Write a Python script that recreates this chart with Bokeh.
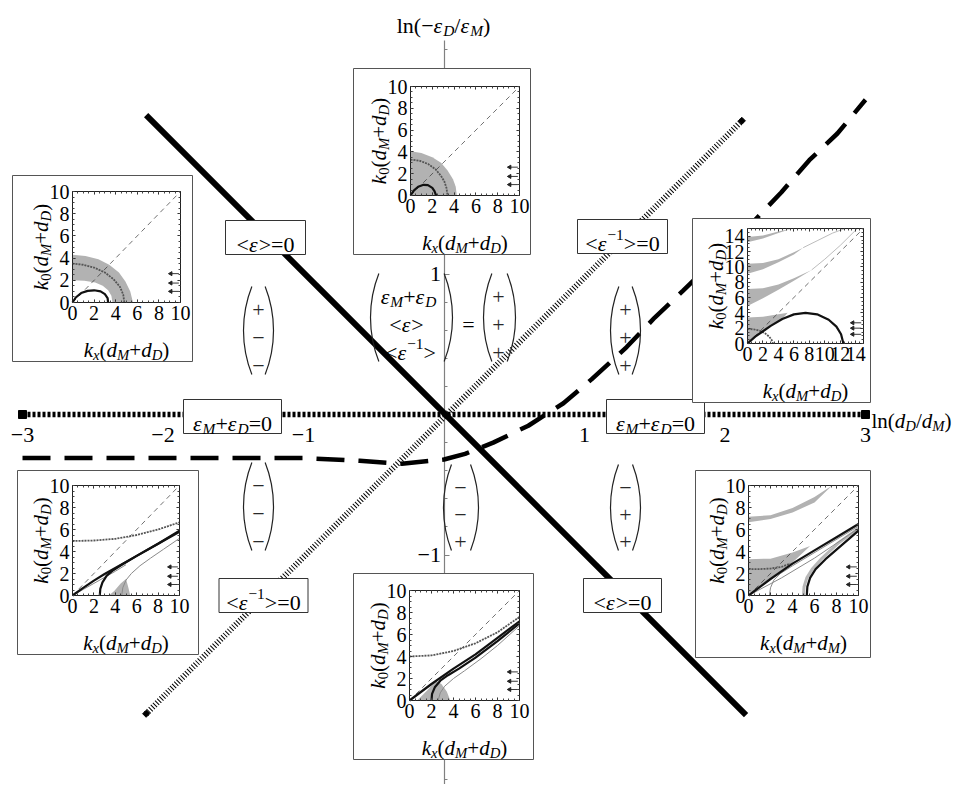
import math
from bokeh.plotting import figure
from bokeh.models import Range1d, LinearAxis, SingleIntervalTicker, FixedTicker
from bokeh.core.properties import value
from bokeh.embed import file_html
from bokeh.resources import INLINE

FONT = "Liberation Serif"

# ---------------- data: main diagram ----------------
x_ticks = [-3, -2, -1, 1, 2, 3]
x_tick_text = ["−3", "−2", "−1", "1", "2", "3"]
y_ticks = [-2, -1, 0, 1, 2]
y_tick_text = ["−2", "−1", "", "1", "2"]

mean_eps_x = [-2.12, 2.15]      # <eps> = 0
mean_eps_y = [2.13, -2.14]
mean_inv_x = [-2.12, 2.12]      # <eps^-1> = 0
mean_inv_y = [-2.13, 2.09]
sum_x = [-3.0, 3.0]             # eps_M + eps_D = 0
sum_y = [0.0, 0.0]
cut_x = [-3.0, -2.5, -2.0, -1.5, -1.0, -0.6, -0.3, 0.0, 0.15, 0.35, 0.6, 0.85,
         1.05, 1.3, 1.5, 1.7, 2.0, 2.2, 2.4, 2.6, 2.8, 3.0]
cut_y = [-0.31, -0.31, -0.31, -0.31, -0.31, -0.33, -0.35, -0.32, -0.28, -0.2, -0.08, 0.08,
         0.25, 0.48, 0.69, 0.88, 1.17, 1.37, 1.58, 1.81, 2.0, 2.24]

signs_ul = ["+", "−", "−"]
signs_c = ["+", "+", "+"]
signs_ur = ["+", "+", "+"]
signs_ll = ["−", "−", "−"]
signs_lc = ["−", "−", "+"]
signs_lr = ["−", "+", "+"]

# ---------------- data: insets (kx, k0 in units of 1/(dM+dD)) ----------------
T_gray_kx = [0, 0, 1.0, 2.0, 2.8, 3.4, 3.9, 4.15, 4.25]
T_gray_k0 = [0, 4.05, 3.9, 3.5, 3.0, 2.3, 1.5, 0.8, 0]
T_arc_kx = [0, 0.8, 1.6, 2.3, 2.8, 3.1, 3.3, 3.4]
T_arc_k0 = [3.3, 3.2, 2.9, 2.4, 1.8, 1.3, 0.7, 0]
T_mode_kx = [0, 0.3, 0.7, 1.2, 1.6, 2.0, 2.2, 2.35]
T_mode_k0 = [0, 0.45, 0.8, 0.98, 0.95, 0.7, 0.4, 0]

L_gray_kx = [0, 1.2, 2.4, 3.4, 4.3, 4.9, 5.35, 5.6, 3.7, 3.6, 3.3, 2.8, 2.1, 1.1, 0]
L_gray_k0 = [4.3, 4.2, 3.9, 3.4, 2.7, 1.9, 1.0, 0, 0, 0.6, 1.1, 1.5, 1.8, 1.95, 2.0]
L_arc_kx = [0, 1.0, 2.0, 3.0, 3.8, 4.4, 4.7, 4.8]
L_arc_k0 = [3.5, 3.4, 3.15, 2.7, 2.1, 1.4, 0.7, 0]
L_mode_kx = [0, 0.3, 0.8, 1.4, 2.0, 2.6, 3.0, 3.25, 3.3]
L_mode_k0 = [0, 0.45, 0.85, 1.05, 1.1, 1.0, 0.75, 0.4, 0]

R_b1_kx = [0, 0, 2, 4, 5.2, 4.5, 3, 2, 1]
R_b1_k0 = [0, 3.4, 3.5, 3.8, 4.0, 3.2, 2.3, 1.6, 0.9]
R_b2_kx = [0, 2, 4, 6, 8.3, 6, 4, 2, 0]
R_b2_k0 = [7.1, 7.2, 7.7, 8.5, 9.6, 8.2, 7.0, 5.9, 4.9]
R_b2t_kx = [8.3, 10, 12, 14.2]
R_b2t_k0 = [9.6, 11.0, 12.8, 15]
R_b3_kx = [0, 2, 4, 6, 7.2, 6, 4, 2, 0]
R_b3_k0 = [10.4, 10.5, 11.0, 11.9, 12.5, 11.6, 10.6, 9.7, 9.1]
R_b3t_kx = [7.2, 9, 11, 12.6]
R_b3t_k0 = [12.5, 13.4, 14.4, 15]
R_b4_kx = [0, 2, 4, 5.8, 4, 2, 0]
R_b4_k0 = [13.9, 14.1, 14.6, 15.0, 14.4, 13.7, 13.2]
R_mode_kx = [0, 1, 2, 3, 4.5, 6, 7.5, 9, 10.5, 11.5, 12.1, 12.4]
R_mode_k0 = [0, 0.9, 1.6, 2.3, 3.2, 3.8, 4.0, 3.8, 3.1, 2.2, 1.2, 0]
R_arc_kx = [0, 0.8, 1.6, 2.3, 2.8, 3.1, 3.3]
R_arc_k0 = [1.9, 1.85, 1.65, 1.3, 0.9, 0.5, 0]

BL_fill_kx = [3.4, 5.4, 5.2, 5.0, 4.5, 3.9]
BL_fill_k0 = [0, 0, 0.8, 1.5, 1.1, 0.4]
BL_hyp_kx = [0, 2, 4, 6, 8, 10]
BL_hyp_k0 = [4.95, 5.0, 5.15, 5.5, 6.0, 6.65]
BL_m1_kx = [0, 1, 2, 3, 4, 5, 6, 8, 10]
BL_m1_k0 = [0, 0.7, 1.35, 1.95, 2.5, 3.05, 3.6, 4.7, 5.9]
BL_m1b_kx = [0, 1, 2, 3, 4, 5]
BL_m1b_k0 = [0, 0.55, 1.1, 1.65, 2.2, 2.8]
BL_m2_kx = [2.55, 2.6, 2.8, 3.2, 3.8, 4.6, 6, 8, 10]
BL_m2_k0 = [0, 0.6, 1.2, 1.8, 2.3, 2.8, 3.6, 4.7, 5.8]
BL_m3_kx = [4.6, 4.7, 5.0, 5.5, 6.3, 7.3, 8.5, 10]
BL_m3_k0 = [0, 0.7, 1.4, 2.0, 2.7, 3.4, 4.2, 5.2]

BC_fill_kx = [0.7, 3.7, 3.4, 2.9, 2.4, 1.6]
BC_fill_k0 = [0, 0, 0.8, 1.5, 1.8, 0.9]
BC_hyp_kx = [0, 2, 4, 6, 8, 10]
BC_hyp_k0 = [4.0, 4.1, 4.5, 5.2, 6.2, 7.6]
BC_m1_kx = [0, 2, 4, 6, 8, 10]
BC_m1_k0 = [0, 1.5, 2.9, 4.2, 5.7, 7.2]
BC_m2_kx = [2.0, 2.05, 2.3, 2.8, 3.5, 4.5, 6, 8, 10]
BC_m2_k0 = [0, 0.6, 1.2, 1.8, 2.3, 2.9, 3.9, 5.4, 7.0]
BC_m3_kx = [2.6, 2.8, 3.2, 4, 5, 6.5, 8, 10]
BC_m3_k0 = [0, 0.7, 1.3, 2.0, 2.7, 3.8, 5.0, 6.8]

BR_top_kx = [0, 2, 4, 6, 7.6, 6, 4, 2, 0]
BR_top_k0 = [7.15, 7.3, 7.95, 8.95, 10, 8.45, 7.55, 6.95, 6.65]
BR_low_kx = [0, 0, 2, 4, 5.6, 4, 2, 0.6]
BR_low_k0 = [0.2, 3.3, 3.35, 3.9, 4.5, 3.0, 1.6, 0.5]
BR_hyp_kx = [0, 1, 2, 3, 3.8]
BR_hyp_k0 = [2.4, 2.4, 2.45, 2.6, 2.9]
BR_m1_kx = [0, 2, 4, 6, 8, 10]
BR_m1_k0 = [0, 1.5, 2.9, 4.1, 5.3, 6.5]
BR_m1b_kx = [0, 3, 6, 10]
BR_m1b_k0 = [0, 1.6, 3.4, 6.1]
BR_m2_kx = [1.9, 2.0, 2.3, 2.9, 4, 5.5, 7.5, 10]
BR_m2_k0 = [0, 0.7, 1.4, 2.0, 2.7, 3.6, 4.8, 6.3]
BR_m3_kx = [5.3, 5.35, 5.6, 6.1, 7, 8.5, 10]
BR_m3_k0 = [0, 0.8, 1.6, 2.4, 3.3, 4.6, 5.9]
BR_m3g_kx = [5.0, 5.05, 5.3, 5.8, 6.7, 8.2, 10]
BR_m3g_k0 = [0, 0.8, 1.6, 2.4, 3.4, 4.8, 6.1]

arrow_k0_10 = [2.6, 1.75, 1.0]
arrow_kx_10 = [9.85, 9.1]
arrow_k0_15 = [2.7, 2.0, 1.2]
arrow_kx_15 = [14.7, 13.6]

# ---------------- layout (page pixels) ----------------
W, H = 953, 784
PX0, PY0 = 0, 0
OX, OY, S = 443.5, 414.0, 140.5


def mx(px):
    return (px - OX) / S


def my(py):
    return (OY - py) / S


p = figure(width=W, height=H, x_range=Range1d(mx(PX0), mx(PX0 + W)),
           y_range=Range1d(my(PY0 + H), my(PY0)), output_backend="svg",
           toolbar_location=None, min_border=0, x_axis_type=None, y_axis_type=None,
           title=None, outline_line_color=None, background_fill_color="white",
           border_fill_color="white")

# ---------------- rich text helper ----------------
ROMAN = {"(": .333, ")": .333, "+": .564, "=": .564, "<": .564, ">": .564, "−": .564,
         "/": .278, "l": .278, "n": .5}
ITAL = {"k": .444, "x": .444, "d": .5, "M": .833, "D": .722, "ε": .44}


def rich(pieces, cx, cy, size, ppx, ppy, xr=None, yr=None, angle=0.0, align="center",
         level="glyph", color="black"):
    def adv(t, k):
        tbl = ITAL if k in ("i", "s") else ROMAN
        f = 0.7 if k in ("s", "sr", "p") else 1.0
        return sum(tbl.get(c, 0.5) for c in t) * size * f
    total = sum(adv(t, k) for t, k in pieces)
    d = -total / 2 if align == "center" else 0.0
    ca, sa = math.cos(angle), math.sin(angle)
    groups = {}
    for t, k in pieces:
        if k in ("s", "sr"):
            dy = 0.33 * size + 0.2 * size
        elif k == "p":
            dy = 0.33 * size - 0.4 * size
        else:
            dy = 0.33 * size
        ox = d * ca + dy * sa
        oy = -d * sa + dy * ca
        fs = size * 0.7 if k in ("s", "sr", "p") else size
        style = "italic" if k in ("i", "s") else "normal"
        g = groups.setdefault((round(fs, 1), style), ([], [], []))
        g[0].append(cx + ox / ppx)
        g[1].append(cy - oy / ppy)
        g[2].append(t)
        d += adv(t, k)
    for (fs, style), (xs, ys, ts) in groups.items():
        kw = {}
        if xr is not None:
            kw = dict(x_range_name=xr, y_range_name=yr)
        p.text(x=xs, y=ys, text=ts, angle=angle, text_font=value(FONT),
               text_font_size=f"{fs}px", text_font_style=style, text_align="left",
               text_baseline="alphabetic", text_color=color, level=level, **kw)


EPS_MEAN = [("<", "r"), ("ε", "i"), (">", "r")]
EPS_INV = [("<", "r"), ("ε", "i"), ("−1", "p"), (">", "r")]
EPS_SUM = [("ε", "i"), ("M", "s"), ("+", "r"), ("ε", "i"), ("D", "s")]
KX_DD = [("k", "i"), ("x", "s"), ("(", "r"), ("d", "i"), ("M", "s"), ("+", "r"), ("d", "i"), ("D", "s"), (")", "r")]
KX_DM = [("k", "i"), ("x", "s"), ("(", "r"), ("d", "i"), ("M", "s"), ("+", "r"), ("d", "i"), ("M", "s"), (")", "r")]
K0_DD = [("k", "i"), ("0", "sr"), ("(", "r"), ("d", "i"), ("M", "s"), ("+", "r"), ("d", "i"), ("D", "s"), (")", "r")]

MAIN = 22

# ---------------- main axes ----------------
yax = LinearAxis(fixed_location=0, bounds=(my(790), my(40)),
                 ticker=SingleIntervalTicker(interval=1, num_minor_ticks=5),
                 major_label_overrides=dict(zip(y_ticks, y_tick_text)),
                 axis_line_color="#808080", axis_line_width=1.2,
                 major_tick_line_color="#808080", minor_tick_line_color="#808080",
                 major_tick_in=5, major_tick_out=0, minor_tick_in=3, minor_tick_out=0,
                 major_label_text_font=FONT, major_label_text_font_size=f"{MAIN}px",
                 major_label_text_color="black",
                 major_label_standoff=3, level="underlay")
p.add_layout(yax, "left")
xax = LinearAxis(fixed_location=0, bounds=(-3, 3), ticker=FixedTicker(ticks=x_ticks),
                 major_label_overrides=dict(zip(x_ticks, x_tick_text)),
                 axis_line_color=None, major_tick_line_color=None, minor_tick_line_color=None,
                 major_label_text_font=FONT, major_label_text_font_size=f"{MAIN}px",
                 major_label_text_color="black",
                 major_label_standoff=7, level="underlay")
p.add_layout(xax, "below")

# ---------------- main curves ----------------
p.line(sum_x, sum_y, line_color="black", line_width=5.5, line_dash="3 2")
p.scatter(sum_x, sum_y, marker="square", size=8, color="black")
p.line(mean_inv_x, mean_inv_y, line_color="black", line_width=6, line_dash="1 2")
p.scatter(mean_inv_x, mean_inv_y, marker="square", size=5, angle=math.pi / 4, color="black")
p.line(cut_x, cut_y, line_color="black", line_width=4.5, line_dash="28 14")
p.line(mean_eps_x, mean_eps_y, line_color="black", line_width=6)

# ---------------- boxed labels ----------------
boxes = [
    (EPS_MEAN + [("=0", "r")], 265, 237, 80),
    (EPS_INV + [("=0", "r")], 622, 236, 90),
    (EPS_SUM + [("=0", "r")], 232, 416, 98),
    (EPS_SUM + [("=0", "r")], 655, 416, 98),
    (EPS_INV + [("=0", "r")], 263, 595, 89),
    (EPS_MEAN + [("=0", "r")], 622, 595, 78),
]
for pieces, bx, by, bw in boxes:
    p.rect(x=[mx(bx)], y=[my(by)], width=bw, height=34, width_units="screen",
           height_units="screen", fill_color="white", line_color="#333333", line_width=1)
    rich(pieces, mx(bx), my(by), MAIN, S, S)

# axis titles
rich([("ln(", "r"), ("−", "r"), ("ε", "i"), ("D", "s"), ("/", "r"), ("ε", "i"), ("M", "s"), (")", "r")],
     mx(443), my(18), MAIN, S, S)
rich([("ln(", "r"), ("d", "i"), ("D", "s"), ("/", "r"), ("d", "i"), ("M", "s"), (")", "r")],
     mx(871), my(414), 21, S, S, align="left")


# ---------------- sign matrices ----------------
def paren(px, top, bot, side):
    R = 120.0
    half = (bot - top) / 2
    th = math.asin(min(half / R, 0.95))
    cy = my((top + bot) / 2)
    if side == "L":
        p.arc(x=[mx(px + R)], y=[cy], radius=R, radius_units="screen",
              start_angle=math.pi - th, end_angle=math.pi + th, line_color="#222", line_width=1.2)
    else:
        p.arc(x=[mx(px - R)], y=[cy], radius=R, radius_units="screen",
              start_angle=-th, end_angle=th, line_color="#222", line_width=1.2)


def matrix(sg, sx, rows, lp, rp):
    for s, ry in zip(sg, rows):
        rich([(s, "r")], mx(sx), my(ry), MAIN, S, S, color="#2a2a2a")
    paren(lp, rows[0] - 16, rows[-1] + 16, "L")
    paren(rp, rows[0] - 16, rows[-1] + 16, "R")


matrix(signs_ul, 258, [302, 330, 358], 243, 273)
matrix(signs_ur, 625, [302, 330, 358], 610, 640)
matrix(signs_ll, 258, [478, 506, 534], 243, 273)
matrix(signs_lc, 460, [480, 507, 534], 443, 478)
matrix(signs_lr, 625, [480, 507, 534], 610, 640)
matrix(signs_c, 498, [289, 317, 345], 483, 515)
rich(EPS_SUM, mx(408), my(289), MAIN, S, S)
rich(EPS_MEAN, mx(406), my(317), MAIN, S, S)
rich(EPS_INV, mx(410), my(345), MAIN, S, S)
paren(370, 273, 361, "L")
paren(452, 273, 361, "R")
rich([("=", "r")], mx(468), my(317), MAIN, S, S)

# ---------------- insets ----------------
INSETS = {
    "T": dict(frame=(410, 86, 109, 109), box=(353, 68, 530, 254), rng=10, xlabel=KX_DD),
    "L": dict(frame=(72, 191, 108, 111), box=(12, 175, 192, 361), rng=10, xlabel=KX_DD),
    "R": dict(frame=(747, 228, 116, 115), box=(692, 218, 870, 402), rng=15, xlabel=KX_DD),
    "BL": dict(frame=(72, 485, 107, 110), box=(17, 470, 198, 654), rng=10, xlabel=KX_DD),
    "BC": dict(frame=(409, 590, 110, 110), box=(353, 573, 533, 759), rng=10, xlabel=KX_DD),
    "BR": dict(frame=(748, 485, 110, 110), box=(695, 470, 870, 657), rng=10, xlabel=KX_DM),
}

GRAY = "#b2b2b2"


def setup_inset(name, cfg):
    fl, ft, fw, fh = cfg["frame"]
    R = cfg["rng"]
    ppx, ppy = fw / R, fh / R
    fb = ft + fh
    xn, yn = "x" + name, "y" + name
    p.extra_x_ranges[xn] = Range1d((PX0 - fl) / ppx, (PX0 + W - fl) / ppx)
    p.extra_y_ranges[yn] = Range1d(-(PY0 + H - fb) / ppy, (fb - PY0) / ppy)
    b = cfg["box"]
    p.quad(left=[mx(b[0])], right=[mx(b[2])], top=[my(b[1])], bottom=[my(b[3])],
           fill_color="white", line_color="#555555", line_width=1, level="annotation")
    for side, loc, lab in (("left", 0, True), ("below", 0, True), ("right", R, False), ("above", R, False)):
        ax = LinearAxis(x_range_name=xn, y_range_name=yn, fixed_location=loc, bounds=(0, R),
                        ticker=SingleIntervalTicker(interval=2, num_minor_ticks=4),
                        axis_line_color="#222222", axis_line_width=1,
                        major_tick_line_color="#222222", minor_tick_line_color="#444444",
                        major_tick_in=3, major_tick_out=0, minor_tick_in=2, minor_tick_out=0,
                        major_label_text_font=FONT, major_label_text_font_size="20px",
                        major_label_text_color="black",
                        major_label_standoff=3, level="overlay")
        if not lab:
            ax.major_label_text_color = None
        p.add_layout(ax, side)
    # labels
    rich(cfg["xlabel"], R / 2, -41 / ppy, 21, ppx, ppy, xr=xn, yr=yn, level="overlay")
    rich(K0_DD, -38 / ppx, R / 2, 21, ppx, ppy, xr=xn, yr=yn, angle=math.pi / 2, level="overlay")
    return xn, yn


def fill(xn, yn, kx, k0, color=GRAY):
    p.patch(kx, k0, fill_color=color, line_color=None, x_range_name=xn, y_range_name=yn, level="overlay")


def curve(xn, yn, kx, k0, kind):
    st = {"black": dict(line_color="#111111", line_width=2.2),
          "thin": dict(line_color="#8a8a8a", line_width=1.0),
          "light": dict(line_color="#bdbdbd", line_width=1.0),
          "lband": dict(line_color="#b8b8b8", line_width=3.0),
          "dark": dict(line_color="#555555", line_width=1.8, line_dash="2 1"),
          "diag": dict(line_color="#333333", line_width=0.7, line_dash="5 4")}[kind]
    p.line(kx, k0, x_range_name=xn, y_range_name=yn, level="overlay", **st)


def arrows(xn, yn, kxs, k0s):
    n = len(k0s)
    p.segment(x0=[kxs[0]] * n, y0=k0s, x1=[kxs[1]] * n, y1=k0s, line_color="#222", line_width=0.9,
              x_range_name=xn, y_range_name=yn, level="overlay")
    p.scatter(x=[kxs[1]] * n, y=k0s, marker="triangle", angle=math.pi / 2, size=4, color="#222",
              x_range_name=xn, y_range_name=yn, level="overlay")


ax_ = {k: setup_inset(k, v) for k, v in INSETS.items()}

# T
xn, yn = ax_["T"]
fill(xn, yn, T_gray_kx, T_gray_k0)
curve(xn, yn, [0, 10], [0, 10], "diag")
curve(xn, yn, T_arc_kx, T_arc_k0, "dark")
curve(xn, yn, T_mode_kx, T_mode_k0, "black")
arrows(xn, yn, arrow_kx_10, arrow_k0_10)

# L
xn, yn = ax_["L"]
fill(xn, yn, L_gray_kx, L_gray_k0)
curve(xn, yn, [0, 10], [0, 10], "diag")
curve(xn, yn, L_arc_kx, L_arc_k0, "dark")
curve(xn, yn, L_mode_kx, L_mode_k0, "black")
arrows(xn, yn, arrow_kx_10, arrow_k0_10)

# R
xn, yn = ax_["R"]
for kx, k0 in ((R_b1_kx, R_b1_k0), (R_b2_kx, R_b2_k0), (R_b3_kx, R_b3_k0), (R_b4_kx, R_b4_k0)):
    fill(xn, yn, kx, k0)
curve(xn, yn, R_b2t_kx, R_b2t_k0, "light")
curve(xn, yn, R_b3t_kx, R_b3t_k0, "light")
curve(xn, yn, [0, 15], [0, 15], "diag")
curve(xn, yn, R_arc_kx, R_arc_k0, "dark")
curve(xn, yn, R_mode_kx, R_mode_k0, "black")
arrows(xn, yn, arrow_kx_15, arrow_k0_15)

# BL
xn, yn = ax_["BL"]
fill(xn, yn, BL_fill_kx, BL_fill_k0)
curve(xn, yn, [0, 10], [0, 10], "diag")
curve(xn, yn, BL_hyp_kx, BL_hyp_k0, "dark")
curve(xn, yn, BL_m1b_kx, BL_m1b_k0, "thin")
curve(xn, yn, BL_m3_kx, BL_m3_k0, "thin")
curve(xn, yn, BL_m1_kx, BL_m1_k0, "black")
curve(xn, yn, BL_m2_kx, BL_m2_k0, "black")
arrows(xn, yn, arrow_kx_10, arrow_k0_10)

# BC
xn, yn = ax_["BC"]
fill(xn, yn, BC_fill_kx, BC_fill_k0)
curve(xn, yn, [0, 10], [0, 10], "diag")
curve(xn, yn, BC_hyp_kx, BC_hyp_k0, "dark")
curve(xn, yn, BC_m3_kx, BC_m3_k0, "thin")
curve(xn, yn, BC_m1_kx, BC_m1_k0, "black")
curve(xn, yn, BC_m2_kx, BC_m2_k0, "black")
arrows(xn, yn, arrow_kx_10, arrow_k0_10)

# BR
xn, yn = ax_["BR"]
fill(xn, yn, BR_top_kx, BR_top_k0)
fill(xn, yn, BR_low_kx, BR_low_k0)
curve(xn, yn, [0, 10], [0, 10], "diag")
curve(xn, yn, BR_hyp_kx, BR_hyp_k0, "dark")
curve(xn, yn, BR_m3g_kx, BR_m3g_k0, "lband")
curve(xn, yn, BR_m1b_kx, BR_m1b_k0, "thin")
curve(xn, yn, BR_m2_kx, BR_m2_k0, "thin")
curve(xn, yn, BR_m1_kx, BR_m1_k0, "black")
curve(xn, yn, BR_m3_kx, BR_m3_k0, "black")
arrows(xn, yn, arrow_kx_10, arrow_k0_10)

open("out.html", "w").write(file_html(p, INLINE))
